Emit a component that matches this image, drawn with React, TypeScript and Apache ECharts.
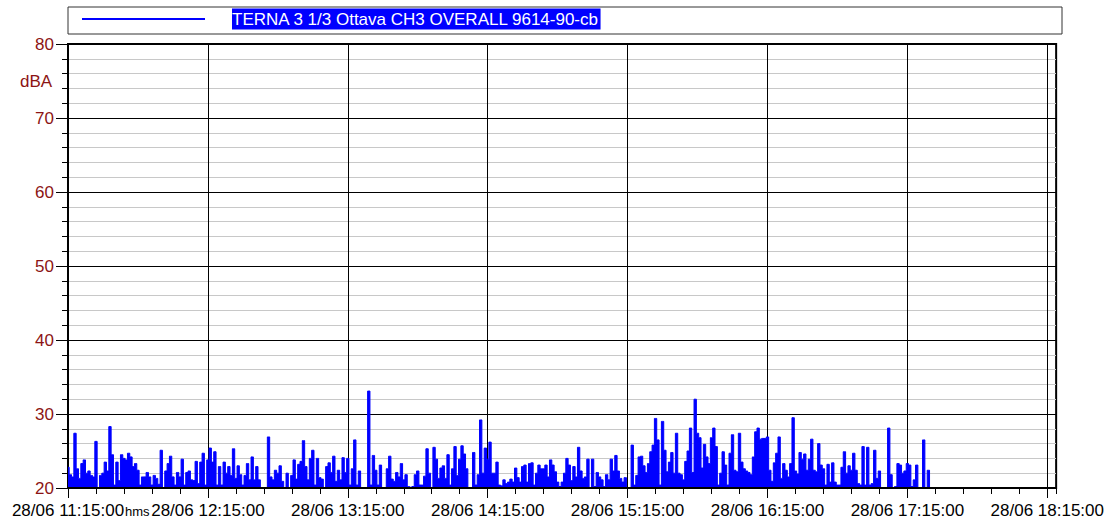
import React, { useEffect, useRef } from "react";
import * as echarts from "echarts";

// Time axis: minutes after 28/06 11:15:00, one reading per minute
const dateLabel = "28/06";
const startHour = 11;
const startMinute = 15;
const xMaxMinutes = 423.8;
const hourStep = 60;
const tickStep = 12;

const yMin = 20;
const yMax = 80;
const yStep = 10;
const yUnit = "dBA";
const xUnit = "hms";
const seriesName = "TERNA 3 1/3 Ottava CH3 OVERALL 9614-90-cb";

// dBA levels, one per minute from 11:15
const levels = [
  22.8, 21.8, 21.5, 27.4, 22.6, 21.3, 23.3, 23.8, 22, 22.3,
  21.7, 21.5, 26.3, 20, 21.7, 22, 23.5, 22.3, 28.3, 24.5,
  20.4, 23.5, 21, 24.5, 24, 23.8, 24.7, 24.2, 22.9, 23.3,
  22.4, 20.4, 21.5, 21.5, 22.1, 21.5, 20.4, 21.7, 21.3, 20.5,
  25.1, 20, 22.3, 23.3, 24.3, 21.5, 20.4, 22.1, 21.5, 23.9,
  20.4, 22.1, 22.3, 21.1, 21, 23.6, 20.6, 23.5, 24.7, 20.4,
  23.8, 25.4, 23.5, 24.9, 20.4, 22.9, 20.4, 23.5, 22, 22.9,
  21.7, 25.3, 21.3, 23, 21.8, 20.4, 21.7, 23.3, 21.1, 24.2,
  21.1, 22.9, 21.1, 20, 20, 20, 26.9, 21.5, 21.1, 22.4,
  22, 23, 20.9, 20, 22, 20, 21.7, 23.8, 21.2, 23.2,
  23.6, 26.4, 22.9, 21.1, 24, 25.1, 20.4, 24, 21.4, 21.2,
  20, 22.9, 23.4, 22.1, 24.3, 20.9, 22.4, 21.1, 24.1, 22.1,
  24, 20.4, 22.6, 26.5, 20.4, 22.3, 20, 20, 20, 33.1,
  20.4, 24.4, 22.4, 20.4, 23.1, 20, 20, 22.6, 24.3, 21.2,
  20.9, 22.1, 21.5, 23.3, 21.1, 21.8, 20.2, 20.1, 20.2, 21.8,
  22.3, 20.4, 20.4, 21.6, 25.3, 22, 20, 25.5, 23.9, 21.3,
  22.7, 23, 21.3, 24.5, 20.4, 22.6, 25.6, 21.7, 23.9, 25.7,
  24.6, 22.6, 20, 20, 24.8, 20.4, 21.8, 29.2, 22, 25.4,
  23.9, 26.2, 22, 22, 23.5, 20.4, 20.3, 21.1, 20.6, 20.8,
  21.2, 20.8, 22.7, 21.4, 20.8, 22.9, 23.1, 20.8, 23.3, 23.4,
  20.4, 22, 23.1, 22.6, 22.6, 23.1, 21.5, 23.8, 23.1, 22.2,
  20.8, 20.2, 20.8, 22, 24, 23.1, 21, 22.9, 21.5, 25.5,
  22.3, 21.3, 21.5, 23.9, 20, 23.9, 20.2, 22.1, 21.5, 21.1,
  20.2, 21.8, 21.1, 23.9, 22.3, 24.4, 22.3, 21.3, 20.8, 21.4,
  20, 20, 25.8, 20.4, 21.7, 24.2, 24.3, 23, 22.1, 23.3,
  24.9, 25.8, 29.4, 26.5, 20.4, 29, 25.1, 22.2, 23.5, 24.8,
  22, 27.4, 22, 21.8, 21.1, 23.6, 25, 28.1, 22.1, 32,
  27.4, 26.8, 22.7, 25.9, 24.2, 23.3, 26.8, 28.1, 25.6, 20.4,
  22, 24.9, 23.1, 20.4, 24.7, 27.2, 22.4, 22.2, 27.4, 23.5,
  22.6, 22.3, 22.1, 21.8, 24.2, 27.6, 28.1, 26.6, 26.7, 26.7,
  26.9, 22.4, 20.9, 23.4, 24.7, 26.9, 21.3, 23.3, 22.4, 21.5,
  23.3, 29.5, 22.3, 21.9, 24.8, 23.9, 24.6, 22.4, 23.9, 26.6,
  22.4, 22.2, 26, 23.1, 22.6, 20.4, 23.2, 20.8, 23.4, 20.8,
  20.4, 20.4, 22.8, 24.9, 22, 23, 22.4, 24.7, 22.4, 20.6,
  20.4, 25.6, 20.4, 25.5, 20.4, 20.6, 25.1, 21.3, 22.3, 20,
  20, 20, 28.1, 21.8, 20, 20.2, 23.3, 23.1, 22, 22.3,
  23.3, 23.1, 20.2, 21.1, 23.1, 20, 20, 26.5, 20, 22.4,
  20,
];

const FONT = "'Liberation Sans', Arial, sans-serif";
const LABEL_RED = "#8c1414";
const BLUE = "#0000ff";

function pad(n: number) {
  return n < 10 ? "0" + n : String(n);
}

function timeLabel(m: number) {
  const total = startHour * 60 + startMinute + m;
  const h = Math.floor(total / 60) % 24;
  const mm = Math.round(total % 60);
  return `${dateLabel} ${pad(h)}:${pad(mm)}:00`;
}

export default function App() {
  const ref = useRef<HTMLDivElement>(null);

  useEffect(() => {
    if (!ref.current) return;
    const chart = echarts.init(ref.current, undefined, { renderer: "svg" });
    const option: any = {
      animation: false,
      backgroundColor: "#ffffff",
      grid: {
        left: 68,
        top: 44,
        right: 45,
        bottom: 33,
        show: true,
        borderColor: "#000",
        borderWidth: 2,
        backgroundColor: "transparent",
      },
      xAxis: [
        {
          type: "value",
          min: 0,
          max: xMaxMinutes,
          interval: tickStep,
          position: "bottom",
          z: 5,
          axisLine: { show: true, lineStyle: { color: "#000", width: 2 } },
          axisTick: { show: true, length: 6, lineStyle: { color: "#000" } },
          axisLabel: { show: false },
          splitLine: { show: false },
        },
        {
          type: "value",
          min: 0,
          max: xMaxMinutes,
          interval: hourStep,
          position: "bottom",
          axisLine: { show: false },
          axisTick: { show: true, length: 10, lineStyle: { color: "#000" } },
          axisLabel: {
            color: "#000",
            fontSize: 17,
            fontFamily: FONT,
            margin: 14,
            showMaxLabel: false,
            formatter: (v: number) =>
              Math.abs(v % hourStep) < 1e-6 ? timeLabel(v) : "",
          },
          splitLine: { show: true, lineStyle: { color: "#000", width: 1 } },
        },
      ],
      yAxis: {
        type: "value",
        min: yMin,
        max: yMax,
        interval: yStep,
        axisLine: { show: true, lineStyle: { color: "#000", width: 2 } },
        axisTick: { show: true, length: 12, lineStyle: { color: "#000" } },
        minorTick: {
          show: true,
          splitNumber: 5,
          length: 6,
          lineStyle: { color: "#000" },
        },
        splitLine: { show: true, lineStyle: { color: "#000", width: 1 } },
        minorSplitLine: { show: true, lineStyle: { color: "#c8c8c8", width: 1 } },
        axisLabel: {
          color: LABEL_RED,
          fontSize: 17,
          fontFamily: FONT,
          margin: 14,
        },
      },
      series: [
        {
          name: seriesName,
          type: "line",
          xAxisIndex: 0,
          data: levels.map((v, i) => [i, v]),
          step: "middle",
          showSymbol: false,
          symbol: "none",
          lineStyle: { color: BLUE, width: 1 },
          itemStyle: { color: BLUE },
          areaStyle: { color: BLUE, opacity: 1, origin: "start" },
        },
      ],
      graphic: [
        {
          type: "rect",
          shape: { x: 68, y: 7, width: 994, height: 27 },
          style: { fill: "#fff", stroke: "#333", lineWidth: 1 },
        },
        {
          type: "line",
          shape: { x1: 82, y1: 19, x2: 205, y2: 19 },
          style: { stroke: BLUE, lineWidth: 2 },
        },
        {
          type: "text",
          x: 232,
          y: 19,
          style: {
            text: seriesName,
            fill: "#fff",
            font: `17px ${FONT}`,
            verticalAlign: "middle",
            backgroundColor: BLUE,
            padding: [2, 1, 2, 0],
          },
        },
        {
          type: "text",
          x: 20,
          y: 81,
          style: {
            text: yUnit,
            fill: LABEL_RED,
            font: `17px ${FONT}`,
            verticalAlign: "middle",
          },
        },
        {
          type: "text",
          x: 125,
          y: 511,
          style: {
            text: xUnit,
            fill: "#000",
            font: `13px ${FONT}`,
            verticalAlign: "middle",
          },
        },
      ],
    };
    chart.setOption(option);
    return () => chart.dispose();
  }, []);

  return (
    <div
      ref={ref}
      style={{ position: "absolute", left: 0, top: 0, width: 1107, height: 521 }}
    />
  );
}
